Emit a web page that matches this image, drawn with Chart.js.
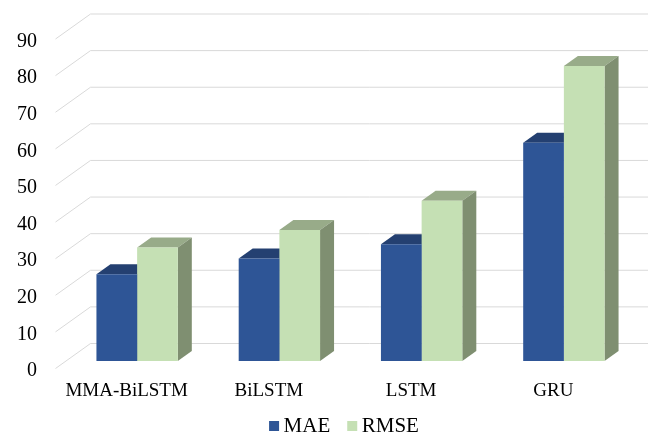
<!DOCTYPE html>
<html>
<head>
<meta charset="utf-8">
<title>MAE / RMSE by model</title>
<script src="https://cdn.jsdelivr.net/npm/chart.js@4/dist/chart.umd.min.js"></script>
<style>
  html, body { margin: 0; padding: 0; background: #ffffff; }
  #wrap { width: 648px; height: 435px; }
</style>
</head>
<body>
<div id="wrap"><canvas id="chart" width="648" height="435"></canvas></div>
<script>
// ---- data ----
const categories = ['MMA-BiLSTM', 'BiLSTM', 'LSTM', 'GRU'];
const maeValues  = [23.7, 28.0, 31.9, 59.6];
const rmseValues = [31.0, 35.8, 43.8, 80.6];
const yTickValues = [0, 10, 20, 30, 40, 50, 60, 70, 80, 90];
const yTickLabels = ['0', '10', '20', '30', '40', '50', '60', '70', '80', '90'];

// ---- 3D geometry (pixels) ----
const BAR_DEPTH  = { dx: 14,    dy: -10   };  // front face -> back face of a bar
const TO_WALL    = { dx: 24.5,  dy: -17.5 };  // bar front plane -> back wall
const TO_FRONT   = { dx: -10.5, dy: 7.5   };  // bar front plane -> floor front edge

const FONT = "'Liberation Serif', 'Times New Roman', serif";

// Draws the perspective gridlines plus the top and side faces of each bar.
const depthPlugin = {
  id: 'depth3d',
  beforeDatasetsDraw(chart) {
    const ctx = chart.ctx;
    const y = chart.scales.y;
    const left = chart.chartArea.left;
    ctx.save();

    // walls: diagonal floor/side line, then horizontal back-wall line
    ctx.strokeStyle = '#d9d9d9';
    ctx.lineWidth = 1;
    yTickValues.forEach(v => {
      const py = y.getPixelForValue(v);
      ctx.beginPath();
      ctx.moveTo(left + TO_FRONT.dx, py + TO_FRONT.dy);
      ctx.lineTo(left + TO_WALL.dx, py + TO_WALL.dy);
      ctx.lineTo(chart.width, py + TO_WALL.dy);
      ctx.stroke();
    });

    // bar tops and right sides (front faces are drawn by the bar controller)
    chart.data.datasets.forEach((ds, di) => {
      const meta = chart.getDatasetMeta(di);
      meta.data.forEach(bar => {
        const p = bar.getProps(['x', 'y', 'base', 'width'], true);
        const L = p.x - p.width / 2, R = p.x + p.width / 2;
        const T = p.y, B = p.base;
        const dx = BAR_DEPTH.dx, dy = BAR_DEPTH.dy;

        ctx.fillStyle = ds.topColor;
        ctx.beginPath();
        ctx.moveTo(L, T);
        ctx.lineTo(R, T);
        ctx.lineTo(R + dx, T + dy);
        ctx.lineTo(L + dx, T + dy);
        ctx.closePath();
        ctx.fill();

        ctx.fillStyle = ds.sideColor;
        ctx.beginPath();
        ctx.moveTo(R, T);
        ctx.lineTo(R + dx, T + dy);
        ctx.lineTo(R + dx, B + dy);
        ctx.lineTo(R, B);
        ctx.closePath();
        ctx.fill();
      });
    });
    ctx.restore();
  }
};

// Compact legend row under the category labels: square swatch + series name.
const LEGEND = { centerX: 344, middleY: 426, box: 10, boxGap: 4.5, itemGap: 17, size: 21 };
const legendRow = {
  id: 'legendRow',
  afterDraw(chart) {
    const ctx = chart.ctx;
    const items = chart.data.datasets.map(ds => ({ text: ds.label, color: ds.backgroundColor }));
    ctx.save();
    ctx.font = LEGEND.size + 'px ' + FONT;
    ctx.textBaseline = 'middle';
    ctx.textAlign = 'left';
    const widths = items.map(it => ctx.measureText(it.text).width);
    let total = 0;
    widths.forEach((w, i) => { total += LEGEND.box + LEGEND.boxGap + w + (i ? LEGEND.itemGap : 0); });
    let x = LEGEND.centerX - total / 2;
    items.forEach((it, i) => {
      ctx.fillStyle = it.color;
      ctx.fillRect(x, LEGEND.middleY - LEGEND.box / 2, LEGEND.box, LEGEND.box);
      x += LEGEND.box + LEGEND.boxGap;
      ctx.fillStyle = '#000000';
      ctx.fillText(it.text, x, LEGEND.middleY);
      x += widths[i] + LEGEND.itemGap;
    });
    ctx.restore();
  }
};

new Chart(document.getElementById('chart'), {
  type: 'bar',
  data: {
    labels: categories,
    datasets: [
      {
        label: 'MAE',
        data: maeValues,
        backgroundColor: '#2e5596',
        topColor: '#244071',
        sideColor: '#1f3864',
        borderWidth: 0
      },
      {
        label: 'RMSE',
        data: rmseValues,
        backgroundColor: '#c5e0b4',
        topColor: '#98ab89',
        sideColor: '#7f8f71',
        borderWidth: 0
      }
    ]
  },
  options: {
    responsive: false,
    animation: false,
    devicePixelRatio: 1,
    layout: { padding: { left: 0, right: 13, top: 31.5, bottom: 0 } },
    datasets: { bar: { categoryPercentage: 0.572, barPercentage: 1 } },
    scales: {
      x: {
        // gap below the floor comes from an invisible tick length
        grid: { display: false, drawTicks: true, tickLength: 19 },
        border: { display: false },
        ticks: {
          font: { family: FONT, size: 19 },
          color: '#000000',
          padding: 0,
          labelOffset: TO_FRONT.dx,
          maxRotation: 0
        },
        afterFit: s => { s.height = 74; }
      },
      y: {
        min: yTickValues[0],
        max: yTickValues[yTickValues.length - 1],
        grid: { display: false, drawTicks: true, tickLength: 29 },
        border: { display: false },
        ticks: {
          stepSize: yTickValues[1] - yTickValues[0],
          autoSkip: false,
          font: { family: FONT, size: 20 },
          color: '#000000',
          padding: 0,
          labelOffset: TO_FRONT.dy + 2.5,
          callback: v => yTickLabels[yTickValues.indexOf(v)]
        },
        afterFit: s => { s.width = 66; }
      }
    },
    plugins: {
      legend: { display: false },
      tooltip: { enabled: false }
    }
  },
  plugins: [depthPlugin, legendRow]
});
</script>
</body>
</html>
